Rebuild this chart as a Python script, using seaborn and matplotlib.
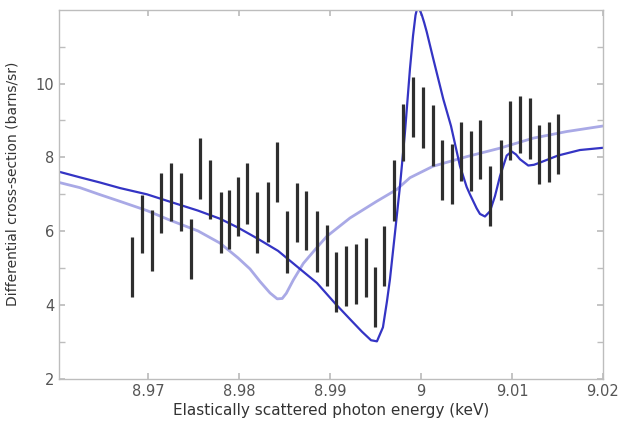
import matplotlib
matplotlib.use("Agg")
import matplotlib.pyplot as plt
import numpy as np
import pandas as pd
import seaborn as sns

# measured points (energy in keV, error bar low / high in barns/sr)
energia = [8.96821, 8.96931, 8.97041, 8.97140, 8.97253, 8.97359, 8.97469, 8.97571,
           8.97681, 8.97799, 8.97893, 8.97992, 8.98091, 8.98201, 8.98322, 8.98421,
           8.98531, 8.98634, 8.98736, 8.98854, 8.98964, 8.99066, 8.99176, 8.99286,
           8.99396, 8.99495, 8.99593, 8.99703, 8.99805, 8.99915, 9.00019, 9.00129,
           9.00227, 9.00337, 9.00440, 9.00547, 9.00652, 9.00756, 9.00876, 9.00978,
           9.01088, 9.01198, 9.01300, 9.01407, 9.01509]
barra_baja = [4.23, 5.41, 4.93, 5.95, 6.27, 6.00, 4.70, 6.88, 6.34, 5.42, 5.52, 5.86,
              6.20, 5.42, 5.70, 6.79, 4.88, 5.70, 5.48, 4.91, 4.52, 3.82, 3.97, 4.03,
              4.21, 3.41, 4.52, 6.29, 7.90, 8.54, 8.26, 7.78, 6.84, 6.75, 7.36, 7.08,
              7.42, 6.13, 6.84, 7.93, 8.11, 7.97, 7.27, 7.33, 7.54]
barra_alta = [5.84, 6.99, 6.57, 7.57, 7.86, 7.58, 6.33, 8.52, 7.93, 7.06, 7.13, 7.48,
              7.86, 7.06, 7.33, 8.42, 6.54, 7.31, 7.08, 6.54, 6.18, 5.45, 5.61, 5.66,
              5.82, 5.03, 6.15, 7.92, 9.44, 10.17, 9.90, 9.42, 8.47, 8.35, 8.96, 8.72,
              9.02, 7.77, 8.47, 9.53, 9.67, 9.60, 8.87, 8.96, 9.17]

# fitted curve (dark blue)
e_ajuste = [8.96025, 8.96253, 8.96473, 8.96692, 8.96989, 8.97242, 8.97549, 8.97791,
            8.97989, 8.98198, 8.98429, 8.98670, 8.98857, 8.99055, 8.99220, 8.99352,
            8.99451, 8.99516, 8.99582, 8.99626, 8.99659, 8.99714, 8.99769, 8.99824,
            8.99879, 8.99913, 8.99940, 8.99962, 8.99985, 9.00010, 9.00035, 9.00063,
            9.00135, 9.00245, 9.00330, 9.00429, 9.00502, 9.00538, 9.00612, 9.00648,
            9.00703, 9.00758, 9.00813, 9.00868, 9.00942, 9.00997, 9.01044, 9.01088,
            9.01179, 9.01242, 9.01308, 9.01505, 9.01747, 9.02000]
s_ajuste = [7.61, 7.46, 7.32, 7.17, 7.00, 6.80, 6.56, 6.34,
            6.10, 5.81, 5.47, 4.98, 4.60, 4.05, 3.62, 3.28,
            3.05, 3.02, 3.40, 4.10, 4.70, 5.95, 7.22, 8.68,
            10.40, 11.30, 11.85, 12.08, 12.00, 11.85, 11.65, 11.40,
            10.67, 9.58, 8.85, 7.76, 7.20, 7.00, 6.62, 6.47,
            6.40, 6.54, 6.95, 7.49, 8.05, 8.16, 8.08, 7.95,
            7.78, 7.80, 7.86, 8.05, 8.20, 8.26]

# reference curve (light blue)
e_ref = [8.96025, 8.96253, 8.96462, 8.96692, 8.96989, 8.97242, 8.97549, 8.97791,
         8.97989, 8.98121, 8.98231, 8.98341, 8.98420, 8.98475, 8.98520, 8.98597,
         8.98707, 8.98835, 8.98964, 8.99220, 8.99513, 8.99733, 8.99879, 9.00132,
         9.00502, 9.00868, 9.01231, 9.01601, 9.02000]
s_ref = [7.32, 7.18, 7.00, 6.81, 6.56, 6.30, 6.01, 5.68,
         5.28, 4.98, 4.64, 4.33, 4.17, 4.18, 4.32, 4.68,
         5.13, 5.50, 5.86, 6.36, 6.81, 7.13, 7.45, 7.76,
         8.02, 8.25, 8.52, 8.70, 8.85]

sns.set_theme(style="ticks")
plt.rcParams["font.family"] = ["DejaVu Sans"]

df_ajuste = pd.DataFrame({"E": e_ajuste, "S": s_ajuste})
df_ref = pd.DataFrame({"E": e_ref, "S": s_ref})

fig = plt.figure(figsize=(6.22, 4.25), dpi=100)
ax = fig.add_axes([0.0953, 0.1082, 0.8741, 0.8682])

sns.lineplot(data=df_ref, x="E", y="S", ax=ax, color="#a9a9e6", linewidth=2.0,
             sort=False, estimator=None)
sns.lineplot(data=df_ajuste, x="E", y="S", ax=ax, color="#3434c4", linewidth=1.6,
             sort=False, estimator=None)
ax.vlines(energia, barra_baja, barra_alta, color="#2e2e2e", linewidth=2.3, zorder=3)

ax.set_xlim(8.96025, 9.02)
ax.set_ylim(2, 11.99)
ax.set_xticks([8.97, 8.98, 8.99, 9.0, 9.01, 9.02])
ax.set_xticklabels(["8.97", "8.98", "8.99", "9", "9.01", "9.02"])
ax.set_yticks([2, 4, 6, 8, 10])
ax.set_yticks([3, 5, 7, 9, 11], minor=True)

for lado in ax.spines.values():
    lado.set_color("#bdbdbd")
    lado.set_linewidth(1.0)
ax.tick_params(which="both", direction="in", top=True, right=True, color="#bdbdbd",
               labelsize=10.5, labelcolor="#555555")
ax.tick_params(which="major", length=4)
ax.tick_params(which="minor", length=4)

ax.set_xlabel("Elastically scattered photon energy (keV)", fontsize=11, color="#333333",
              labelpad=3)
ax.set_ylabel("Differential cross-section (barns/sr)", fontsize=10, color="#333333")
ax.yaxis.set_label_coords(-0.074, 0.53)

fig.savefig("out.png", dpi=100)
